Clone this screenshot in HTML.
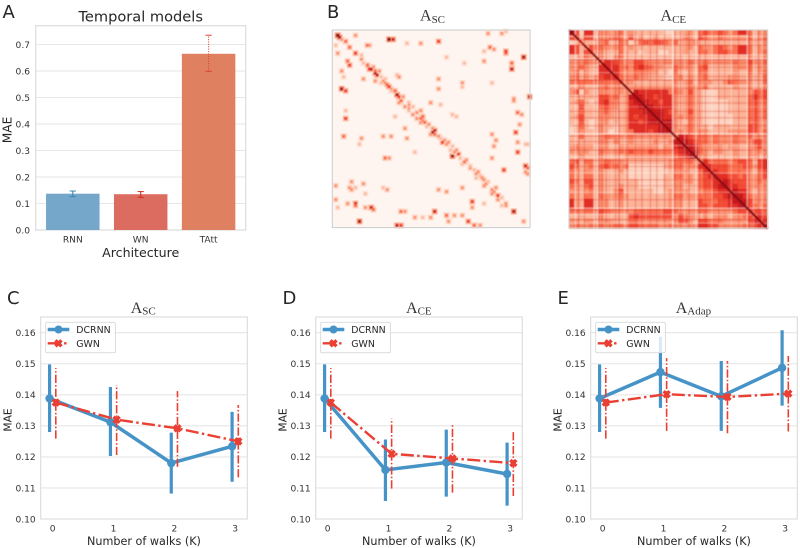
<!DOCTYPE html>
<html lang="en">
<head>
<meta charset="utf-8">
<title>Temporal models and walks</title>
<style>
html,body{margin:0;padding:0;background:#fff;}
body{width:800px;height:548px;overflow:hidden;}
svg{display:block;font-family:"DejaVu Sans","Liberation Sans",sans-serif;}
.letter{font-size:18px;fill:#262626;}
.serif{font-family:"Liberation Serif","DejaVu Serif",serif;fill:#333;}
.label{fill:#262626;}
.tick{font-size:9.1px;fill:#333;}
</style>
</head>
<body>
<svg id="figure" width="800" height="548" viewBox="0 0 800 548" xmlns="http://www.w3.org/2000/svg">
  <defs>
    <filter id="soft" x="-2%" y="-2%" width="104%" height="104%"><feGaussianBlur stdDeviation="0.5"/></filter>
  </defs>

  <g id="panel-a">
    <g id="a-grid"></g>
    <g id="a-marks"></g>
    <text class="letter" x="2.5" y="18">A</text>
    <text class="label" x="140.7" y="21.7" font-size="14.6" text-anchor="middle">Temporal models</text>
    <text class="label" x="140.7" y="257" font-size="12.6" text-anchor="middle">Architecture</text>
    <text class="label" transform="translate(11.5,130) rotate(-90)" font-size="12.2" text-anchor="middle">MAE</text>
  </g>

  <g id="panel-b">
    <text class="letter" x="327" y="18">B</text>
    <text class="serif" x="420" y="20.7" font-size="16">A<tspan font-size="11" dy="2.5">SC</tspan></text>
    <text class="serif" x="660.5" y="20.7" font-size="16">A<tspan font-size="11" dy="2.5">CE</tspan></text>
    <g id="sc-heatmap"></g>
    <g id="ce-heatmap"></g>
  </g>

  <g id="panel-c">
    <g id="c-grid"></g>
    <g id="c-marks"></g>
    <g id="c-legend">
      <text class="label" x="76.3" y="333" font-size="9.4">DCRNN</text>
      <text class="label" x="76.3" y="347" font-size="9.4">GWN</text>
    </g>
    <text class="letter" x="7" y="304">C</text>
    <text class="serif" x="130.7" y="313" font-size="16">A<tspan font-size="11" dy="1.5">SC</tspan></text>
    <text class="label" x="144" y="545" font-size="11.2" text-anchor="middle">Number of walks (K)</text>
    <text class="label" transform="translate(11.5,420) rotate(-90)" font-size="10.7" text-anchor="middle">MAE</text>
  </g>

  <g id="panel-d">
    <g id="d-grid"></g>
    <g id="d-marks"></g>
    <g id="d-legend">
      <text class="label" x="351.3" y="333" font-size="9.4">DCRNN</text>
      <text class="label" x="351.3" y="347" font-size="9.4">GWN</text>
    </g>
    <text class="letter" x="282.5" y="304">D</text>
    <text class="serif" x="406" y="313" font-size="16">A<tspan font-size="11" dy="1.5">CE</tspan></text>
    <text class="label" x="419" y="545" font-size="11.2" text-anchor="middle">Number of walks (K)</text>
    <text class="label" transform="translate(286.5,420) rotate(-90)" font-size="10.7" text-anchor="middle">MAE</text>
  </g>

  <g id="panel-e">
    <g id="e-grid"></g>
    <g id="e-marks"></g>
    <g id="e-legend">
      <text class="label" x="626.3" y="333" font-size="9.4">DCRNN</text>
      <text class="label" x="626.3" y="347" font-size="9.4">GWN</text>
    </g>
    <text class="letter" x="557.5" y="304">E</text>
    <text class="serif" x="675.7" y="313" font-size="16">A<tspan font-size="11" dy="1.5">Adap</tspan></text>
    <text class="label" x="694" y="545" font-size="11.2" text-anchor="middle">Number of walks (K)</text>
    <text class="label" transform="translate(561.5,420) rotate(-90)" font-size="10.7" text-anchor="middle">MAE</text>
  </g>
</svg>

<script>
/* ---------- Panel A data ---------- */
const barCategories = ["RNN", "WN", "TAtt"];
const barValues = [0.137, 0.135, 0.665];
const barErrLow = [0.126, 0.123, 0.599];
const barErrHigh = [0.147, 0.145, 0.735];
const barTicks = [0, 0.1, 0.2, 0.3, 0.4, 0.5, 0.6, 0.7];

/* ---------- Panels C, D, E data ---------- */
const walkCategories = [0, 1, 2, 3];
const walkTicks = [0.10, 0.11, 0.12, 0.13, 0.14, 0.15, 0.16];

const scDcrnn = [0.1388, 0.1312, 0.1180, 0.1234];
const scDcrnnLow = [0.1280, 0.1203, 0.1082, 0.1120];
const scDcrnnHigh = [0.1498, 0.1425, 0.1278, 0.1345];
const scGwn = [0.1375, 0.1320, 0.1292, 0.1250];
const scGwnLow = [0.1259, 0.1206, 0.1168, 0.1134];
const scGwnHigh = [0.1486, 0.1431, 0.1412, 0.1367];

const ceDcrnn = [0.1388, 0.1158, 0.1182, 0.1145];
const ceDcrnnLow = [0.1280, 0.1058, 0.1072, 0.1043];
const ceDcrnnHigh = [0.1498, 0.1256, 0.1288, 0.1246];
const ceGwn = [0.1375, 0.1210, 0.1195, 0.1180];
const ceGwnLow = [0.1259, 0.1098, 0.1085, 0.1074];
const ceGwnHigh = [0.1486, 0.1323, 0.1303, 0.1285];

const adapDcrnn = [0.1388, 0.1473, 0.1395, 0.1487];
const adapDcrnnLow = [0.1280, 0.1358, 0.1284, 0.1365];
const adapDcrnnHigh = [0.1498, 0.1587, 0.1509, 0.1608];
const adapGwn = [0.1375, 0.1402, 0.1393, 0.1404];
const adapGwnLow = [0.1259, 0.1284, 0.1276, 0.1282];
const adapGwnHigh = [0.1486, 0.1518, 0.1509, 0.1525];

/* ---------- Heatmap A_CE: lower triangle, intensity 0-8 ---------- */
const ceMatrix = [
[8],
[5,8],
[1,2,7],
[6,5,2,8],
[6,5,2,5,8],
[2,2,2,4,3,8],
[3,3,3,4,3,3,8],
[3,3,4,3,2,2,6,8],
[3,4,2,3,2,2,6,6,8],
[3,4,2,3,2,3,5,6,6,8],
[4,4,4,4,4,4,4,4,4,4,8],
[2,2,3,2,2,2,3,4,3,3,3,8],
[3,5,1,3,2,2,3,3,3,3,3,3,8],
[2,2,2,2,2,2,5,5,4,4,2,3,7,8],
[2,3,4,2,1,2,5,6,4,3,2,3,6,7,8],
[2,2,5,2,2,2,4,5,4,3,2,3,6,6,7,8],
[2,2,4,2,2,2,3,4,3,2,2,3,6,6,6,7,8],
[2,3,5,2,2,2,3,3,3,2,2,3,6,5,6,6,7,8],
[2,2,5,2,1,2,3,3,2,2,2,3,6,6,5,6,7,7,8],
[1,2,4,2,1,2,3,2,2,1,2,3,6,6,6,6,6,6,7,8],
[1,2,3,2,2,2,3,2,1,1,2,3,4,6,6,6,5,6,7,7,8],
[2,2,4,2,2,2,3,4,4,3,3,3,4,3,3,3,3,3,3,3,3,8],
[2,2,2,2,2,2,3,3,2,3,2,2,3,2,2,2,2,3,2,2,3,7,8],
[3,4,3,3,3,2,3,3,2,2,3,3,3,3,3,3,3,3,2,3,3,6,7,8],
[3,3,3,3,2,2,4,3,3,3,4,4,5,4,4,4,5,4,4,4,4,5,6,7,8],
[2,2,3,2,2,2,3,2,2,2,2,3,3,3,3,3,3,3,3,3,3,4,5,6,7,8],
[4,5,2,4,4,2,3,4,4,3,3,3,2,2,2,2,2,2,2,2,3,4,4,4,4,3,8],
[5,4,2,3,4,2,4,5,4,4,3,4,1,1,1,1,1,1,1,2,3,4,4,3,3,3,6,8],
[4,3,2,3,3,2,3,2,2,2,3,2,1,1,1,1,1,1,1,1,2,3,3,3,2,2,4,6,8],
[4,3,2,4,4,2,3,2,2,2,2,2,1,1,1,1,1,1,1,2,2,4,4,3,3,2,4,5,6,8],
[5,4,2,5,5,2,3,2,2,2,2,2,2,2,1,1,1,1,1,2,2,3,3,3,3,2,4,5,5,6,8],
[4,3,2,4,5,2,3,2,2,2,3,2,2,2,1,1,1,1,1,2,2,3,3,2,2,2,4,5,5,6,7,8],
[3,3,2,3,4,2,3,2,2,3,5,2,2,2,2,2,2,1,1,2,3,3,3,3,2,2,3,4,4,5,6,6,8],
[4,3,2,4,4,2,4,3,3,3,4,3,2,2,2,2,2,2,2,2,3,4,4,3,3,3,4,4,4,5,5,6,7,8],
[6,3,2,6,6,2,3,3,2,2,3,2,2,2,2,2,2,2,2,2,3,3,3,2,2,2,5,4,4,4,5,5,6,7,8],
[6,3,2,6,6,2,3,3,2,2,3,2,2,2,2,2,2,2,2,2,3,3,3,2,2,2,5,5,4,5,5,5,6,6,7,8],
[4,4,3,4,4,3,5,4,4,3,3,3,3,4,4,4,4,4,4,5,5,4,3,3,3,3,4,4,3,3,3,3,3,4,5,5,8],
[2,2,2,2,2,2,3,2,2,2,2,2,5,6,5,5,5,5,5,5,5,3,5,4,3,3,2,3,2,3,3,3,2,3,3,4,5,8],
[3,3,2,3,3,2,3,3,3,2,2,2,4,4,3,3,3,3,3,3,3,3,5,5,3,2,5,5,4,4,4,3,3,3,3,3,5,6,8],
[3,4,3,3,4,3,4,3,4,4,4,3,5,5,4,4,4,4,3,3,4,3,3,3,3,3,6,6,5,5,3,3,3,3,3,4,4,5,6,8]
];
/* Thin node streaks crossing the A_CE matrix: matrix index and signed strength */
const ceStreakNodes = [1.3,2.0,3.1,5.0,5.8,6.0,6.6,7.5,8.6,9.4,10.1,11.2,11.8,13.4,14.7,15.5,16.4,17.7,18.6,19.3,20.9,21.4,22.5,23.3,24.2,25.6,26.3,27.5,28.8,30.2,31.4,32.7,34.2,35.9,36.3,37.2,38.2,38.9,39.5];
const ceStreakStrengths = [-0.5,0.4,0.3,-0.4,-0.6,0.5,0.3,0.3,-0.3,0.3,0.5,-0.3,0.3,0.3,0.3,-0.2,0.3,0.3,-0.2,0.3,-0.7,0.3,0.3,-0.3,0.4,-0.5,0.4,0.3,-0.3,0.3,0.2,-0.3,0.3,-0.5,0.5,-0.3,0.4,-0.3,0.3];

/* ---------- Heatmap A_SC: sparse entries as [row, column, intensity 0-8] ---------- */
const scEntries = [
[2,2,8],[3,3,7],[5,6,4],[4,4,3],[8,8,4],[11,11,5],[2,11,3],[11,2,3],[7,1,2],[7,17,4],[7,18,3],
[4,28,8],[4,30,6],[6,37,2],[6,44,3],[5,53,5],[17,8,5],[15,7,4],[20,4,3],[29,4,7],[30,6,5],[23,5,2],
[14,14,3],[17,17,4],[19,18,5],[19,19,6],[21,21,7],[22,22,6],[25,25,3],[26,26,3],[27,27,4],[28,28,5],
[32,32,7],[35,34,4],[38,36,3],[37,38,3],[39,38,3],[41,42,3],[44,44,4],[45,45,3],[46,46,4],[47,48,3],
[51,50,7],[50,51,6],[53,53,3],[56,55,5],[56,58,3],[63,60,7],[62,63,5],[60,62,3],[66,66,4],[69,69,3],
[72,72,3],[73,74,2],[74,75,3],[75,76,3],[77,77,3],[80,80,3],[81,81,3],[83,83,5],[87,87,3],[91,91,7],[96,96,3],
[24,15,3],[25,21,3],[22,32,2],[23,33,3],[24,53,3],[29,53,3],[26,65,3],[28,65,2],[26,80,2],[36,49,3],
[37,54,2],[34,91,3],[35,91,3],[33,99,6],[44,6,5],[40,6,2],[43,31,2],[44,42,3],[49,36,3],[54,37,3],
[42,60,2],[43,62,2],[41,93,4],[42,95,3],[51,92,5],[47,94,3],[53,25,3],[53,29,3],[53,5,4],[54,14,3],
[57,13,2],[52,80,3],[55,82,3],[58,81,3],[56,93,3],[61,93,5],[57,97,2],[57,98,2],[64,26,4],[64,28,3],
[61,41,2],[64,80,3],[70,86,5],[68,97,6],[69,98,4],[72,98,3],[71,97,3],[76,9,3],[79,8,3],[77,15,3],
[79,11,2],[80,9,3],[82,16,2],[78,1,3],[80,27,3],[79,25,2],[80,53,3],[81,57,3],[79,65,3],[86,70,5],
[89,70,3],[87,76,2],[85,1,3],[87,11,6],[88,11,4],[89,2,2],[87,7,3],[89,16,3],[89,19,6],[90,20,4],
[91,34,4],[91,36,3],[91,51,6],[94,41,3],[94,45,2],[94,49,3],[93,57,4],[93,61,3],[93,65,3],[96,13,7],
[96,58,3],[96,68,5],[98,71,4],[98,74,3],[98,32,6],[98,34,5],[1,78,3],[1,85,3],[0,87,2],[8,79,4],
[9,81,3],[10,76,2],[11,87,4],[10,87,5],[13,96,7],[15,76,3],[16,90,4],[19,90,6],[16,66,2],[13,57,2],
[12,14,2],[16,15,2],[18,20,3],[20,21,4],[20,23,3],[23,24,2],[24,26,2],[26,24,2],[29,29,3],[30,29,2],
[30,31,4],[33,33,5],[33,35,3],[36,33,3],[36,38,2],[40,38,2],[38,40,2],[40,44,3],[42,40,3],[43,45,4],
[46,44,3],[48,47,2],[49,50,3],[52,51,4],[52,49,3],[54,54,2],[55,56,3],[57,57,3],[58,60,2],[60,59,2],
[61,61,3],[64,64,2],[65,67,3],[67,65,2],[68,69,2],[70,71,2],[71,73,3],[74,72,2],[76,78,2],[78,76,3],
[79,82,3],[82,80,3],[84,85,2],[85,83,3],[88,87,3],[88,85,2]
];
const scGridSize = 100;

/* ---------- Drawing helpers ---------- */
const NS = "http://www.w3.org/2000/svg";
function make(parent, tag, attrs, text) {
  const el = document.createElementNS(NS, tag);
  for (const k in attrs) el.setAttribute(k, attrs[k]);
  if (text !== undefined) el.textContent = text;
  parent.appendChild(el);
  return el;
}
function linear(d0, d1, r0, r1) {
  return function (v) { return r0 + (v - d0) / (d1 - d0) * (r1 - r0); };
}
const redStops = [[255,245,240],[254,224,210],[252,187,161],[252,146,114],[251,106,74],[239,59,44],[203,24,29],[165,15,21],[103,0,13]];
function reds(v) {
  const t = Math.max(0, Math.min(8, v));
  const i = Math.min(7, Math.floor(t));
  const f = t - i;
  const c = redStops[i].map(function (a, k) { return Math.round(a + (redStops[i + 1][k] - a) * f); });
  return "rgb(" + c.join(",") + ")";
}
function ceColor(v) { return reds(0.6 + 0.8 * v); }
const GRID = "#e6e6e6";
const SPINE = "#dedede";
const BLUE = "#4693c8";
const RED = "#ea4034";

/* ---------- Panel A ---------- */
(function () {
  const L = 35.7, R = 245.7, T = 25.7, B = 230;
  const y = linear(0, 0.7, B, 44.5);
  const x = linear(0, 2, 72.8, 208.6);
  const barW = 53.5;
  const grid = document.getElementById("a-grid");
  const marks = document.getElementById("a-marks");
  barTicks.forEach(function (t) {
    const line = make(grid, "line", { x1: L, x2: R, y1: y(t), y2: y(t), stroke: GRID, "stroke-width": 1.1 });
    
    
    const lab = make(grid, "text", { class: "tick", x: L - 5.7, y: y(t) + 3.3, "text-anchor": "end" }, t.toFixed(1));
    
    
  });
  const frame = make(grid, "rect", { x: L, y: T, width: R - L, height: B - T, fill: "none", stroke: SPINE, "stroke-width": 1.3 });
  
  
  const fills = ["#74a7c9", "#dc6c5f", "#df8060"];
  const errs = ["#3d86b5", "#cf3020", "#d9452a"];
  barCategories.forEach(function (c, i) {
    const bar = make(marks, "rect", { x: x(i) - barW / 2, y: y(barValues[i]), width: barW, height: B - y(barValues[i]), fill: fills[i] });
    
    
    const dash = i === 2 ? "1 1.4" : "none";
    const e = make(marks, "line", { x1: x(i), x2: x(i), y1: y(barErrLow[i]), y2: y(barErrHigh[i]), stroke: errs[i], "stroke-width": 1.1, "stroke-dasharray": dash });
    
    
    [barErrLow[i], barErrHigh[i]].forEach(function (v) {
      const cap = make(marks, "line", { x1: x(i) - 3.1, x2: x(i) + 3.1, y1: y(v), y2: y(v), stroke: errs[i], "stroke-width": 1 });
      
      
    });
    const lab = make(grid, "text", { class: "tick", x: x(i), y: 242.5, "text-anchor": "middle", "font-size": 8.7 }, c);
    
    
  });
})();

/* ---------- Panel B heatmaps ---------- */
(function () {
  const host = document.getElementById("sc-heatmap");
  const L = 332.3, T = 30, S = 197.8;
  const bg = make(host, "rect", { x: L, y: T, width: S, height: S - 0.2, fill: reds(0) });
  
  
  const layer = make(host, "g", { filter: "url(#soft)" });
  
  
  const sc = S / scGridSize;
  scEntries.forEach(function (en) {
    const halo = make(layer, "rect", { x: L + (en[1] - 0.7) * sc, y: T + (en[0] - 0.7) * sc, width: sc * 2.9, height: sc * 2.9, fill: reds(en[2] * 0.4) });
    
    
  });
  scEntries.forEach(function (en) {
    const cell = make(layer, "rect", { x: L + en[1] * sc, y: T + en[0] * sc, width: sc * 1.5, height: sc * 1.5, fill: reds(en[2]) });
    
    
  });
  const border = make(host, "rect", { x: L, y: T, width: S, height: S - 0.2, fill: "none", stroke: "#cfcfcf", "stroke-width": 1.1 });
  
  
})();

(function () {
  const host = document.getElementById("ce-heatmap");
  const L = 569, T = 30, S = 198.5;
  const n = ceMatrix.length;
  const s = S / n;
  const layer = make(host, "g", { filter: "url(#soft)" });
  
  
  function paint(r, c, v) {
    const cell = make(layer, "rect", { x: L + c * s, y: T + r * s, width: s + 0.3, height: s + 0.3, fill: ceColor(v) });
    
    
  }
  ceMatrix.forEach(function (row, r) {
    row.forEach(function (v, c) {
      if (r === c) {
        paint(r, c, r > 0 ? row[c - 1] : v);
      } else {
        paint(r, c, v);
        paint(c, r, v);
      }
    });
  });
  ceStreakNodes.forEach(function (node, i) {
    const strength = ceStreakStrengths[i];
    const color = strength < 0 ? "#fff5f0" : "#d7301f";
    const pos = node * s;
    const h = make(layer, "line", { x1: L, x2: L + S, y1: T + pos, y2: T + pos, stroke: color, "stroke-width": 1.3, "stroke-opacity": Math.abs(strength) });
    
    
    const w = make(layer, "line", { y1: T, y2: T + S, x1: L + pos, x2: L + pos, stroke: color, "stroke-width": 1.3, "stroke-opacity": Math.abs(strength) });
    
    
  });
  ceMatrix.forEach(function (row, r) {
    const d = make(layer, "line", { x1: L + r * s, y1: T + r * s, x2: L + (r + 1) * s, y2: T + (r + 1) * s, stroke: reds(row[r] - 0.6), "stroke-width": 2.3 });
    
    
  });
  const border = make(host, "rect", { x: L, y: T, width: S, height: S - 0.5, fill: "none", stroke: "#cfcfcf", "stroke-width": 1 });
  
  
})();

/* ---------- Panels C, D, E ---------- */
function drawWalkPanel(id, name, L, d, dl, dh, g, gl, gh) {
  const R = L + 206.6, T = 317, B = 519;
  const y = linear(0.10, 0.16, B, 332.7);
  const x = linear(0, 3, L + 12, L + 194.5);
  const dodge = 3.1;
  const grid = document.getElementById(id + "-grid");
  const marks = document.getElementById(id + "-marks");
  const legend = document.getElementById(id + "-legend");

  walkTicks.forEach(function (t) {
    const line = make(grid, "line", { x1: L, x2: R, y1: y(t), y2: y(t), stroke: GRID, "stroke-width": 1.1 });
    
    
    const lab = make(grid, "text", { class: "tick", x: L - 5, y: y(t) + 3.3, "text-anchor": "end" }, t.toFixed(2));
    
    
  });
  const frame = make(grid, "rect", { x: L, y: T, width: R - L, height: B - T, fill: "none", stroke: SPINE, "stroke-width": 1.2 });
  
  
  walkCategories.forEach(function (c, i) {
    const lab = make(grid, "text", { class: "tick", x: x(i), y: 531.5, "text-anchor": "middle" }, String(c));
    
    
  });

  const dPts = d.map(function (v, i) { return (x(i) - dodge) + "," + y(v); }).join(" ");
  const dLine = make(marks, "polyline", { points: dPts, fill: "none", stroke: BLUE, "stroke-width": 3.5, "stroke-linejoin": "round" });
  
  
  d.forEach(function (v, i) {
    const e = make(marks, "line", { x1: x(i) - dodge, x2: x(i) - dodge, y1: y(dl[i]), y2: y(dh[i]), stroke: BLUE, "stroke-width": 3.2 });
    
    
    const p = make(marks, "circle", { cx: x(i) - dodge, cy: y(v), r: 4.2, fill: BLUE });
    
    
  });

  const gPts = g.map(function (v, i) { return (x(i) + dodge) + "," + y(v); }).join(" ");
  const gLine = make(marks, "polyline", { points: gPts, fill: "none", stroke: RED, "stroke-width": 2.4, "stroke-dasharray": "13 3.4 2.4 3.4" });
  
  
  g.forEach(function (v, i) {
    const e = make(marks, "line", { x1: x(i) + dodge, x2: x(i) + dodge, y1: y(gl[i]), y2: y(gh[i]), stroke: RED, "stroke-width": 1.6, "stroke-dasharray": "8.3 2 1.6 2" });
    
    
    const p = make(marks, "path", { d: "M-3 -3L3 3M-3 3L3 -3", transform: "translate(" + (x(i) + dodge) + "," + y(v) + ")", stroke: RED, "stroke-width": 3.4, fill: "none" });
    
    
  });

  const first = legend.firstChild;
  const box = document.createElementNS(NS, "rect");
  box.setAttribute("x", L + 5); box.setAttribute("y", 322.3);
  box.setAttribute("width", 69.7); box.setAttribute("height", 30.4);
  box.setAttribute("rx", 1.5);
  box.setAttribute("fill", "#fff"); box.setAttribute("fill-opacity", 0.8);
  box.setAttribute("stroke", "#d8d8d8"); box.setAttribute("stroke-width", 0.9);
  
  
  legend.insertBefore(box, first);

  const lx0 = L + 7, lx1 = L + 28.6, lxm = L + 17.8;
  const ld = make(legend, "line", { x1: lx0, x2: lx1, y1: 329.5, y2: 329.5, stroke: BLUE, "stroke-width": 3.5 });
  
  
  const lp = make(legend, "circle", { cx: lxm, cy: 329.5, r: 4, fill: BLUE });
  
  
  const lg = make(legend, "line", { x1: lx0, x2: lx1, y1: 343.3, y2: 343.3, stroke: RED, "stroke-width": 2.4, "stroke-dasharray": "13 3.4 2.4 3.4" });
  
  
  const lm = make(legend, "path", { d: "M-3 -3L3 3M-3 3L3 -3", transform: "translate(" + lxm + ",343.3)", stroke: RED, "stroke-width": 3.4, fill: "none" });
  
  
}
drawWalkPanel("c", "sc", 40.7, scDcrnn, scDcrnnLow, scDcrnnHigh, scGwn, scGwnLow, scGwnHigh);
drawWalkPanel("d", "ce", 315.7, ceDcrnn, ceDcrnnLow, ceDcrnnHigh, ceGwn, ceGwnLow, ceGwnHigh);
drawWalkPanel("e", "adaptive", 590.7, adapDcrnn, adapDcrnnLow, adapDcrnnHigh, adapGwn, adapGwnLow, adapGwnHigh);
</script>
</body>
</html>
